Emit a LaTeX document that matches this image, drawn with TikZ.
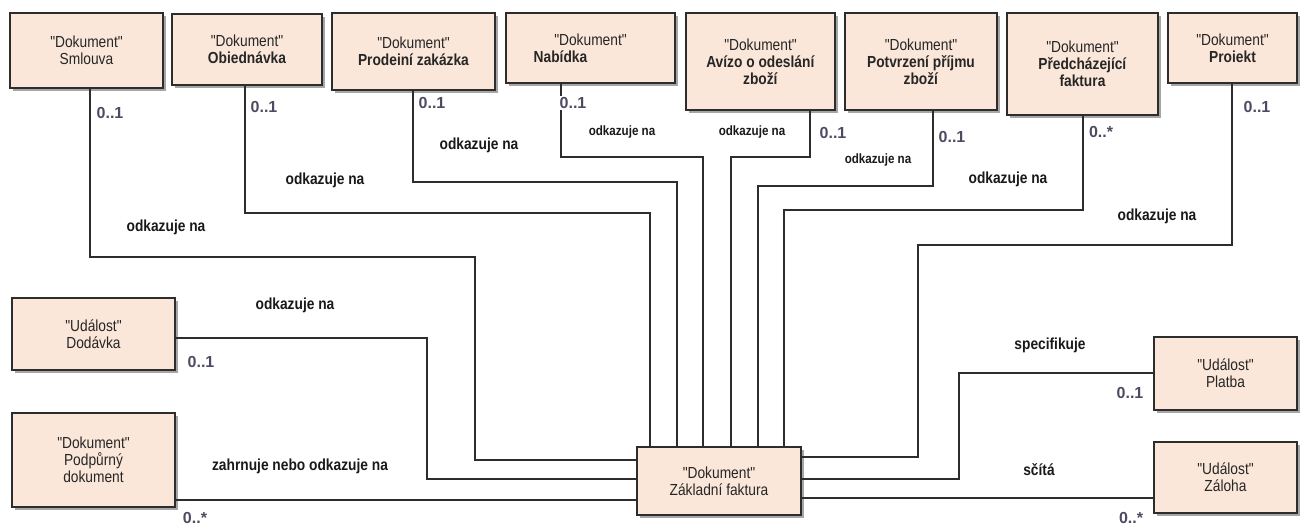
\documentclass[tikz,border=0pt]{standalone}
\usepackage{fontspec}
\setmainfont{Liberation Sans}
\newfontfamily\narrowsans[FakeStretch=0.86]{Liberation Sans}
\usetikzlibrary{shadows}
\definecolor{peach}{RGB}{251,231,217}
\definecolor{edge}{RGB}{45,45,45}
\definecolor{multc}{RGB}{78,74,98}
\begin{document}
\begin{tikzpicture}[x=1pt,y=-1pt,
  entity/.style={draw=edge, line width=1.6pt, fill=peach, align=center, inner sep=0pt,
    text=black!85, font=\narrowsans\fontsize{16}{17}\selectfont,
    drop shadow={shadow xshift=3pt, shadow yshift=-3pt, opacity=0.35, fill=black}},
  conn/.style={draw=edge, line width=1.5pt},
  role/.style={font=\narrowsans\bfseries\fontsize{16}{17}\selectfont, text=black!90, inner sep=1pt},
  rolesm/.style={font=\narrowsans\bfseries\fontsize{13.5}{15}\selectfont, text=black!90, inner sep=1pt},
  mult/.style={font=\bfseries\fontsize{16}{18}\selectfont, text=multc, inner sep=1pt}]
\useasboundingbox (0,0) rectangle (1307,528);

% ---- document classes along the top row
\node[entity, minimum width=153, minimum height=75] (smlouva) at (86.5,50.5)
  {"Dokument"\\Smlouva};
\node[entity, minimum width=150, minimum height=71] (obj) at (247,49.5)
  {"Dokument"\\\textbf{Obiednávka}};
\node[entity, minimum width=163, minimum height=77] (prod) at (413.5,51.5)
  {"Dokument"\\\textbf{Prodeiní zakázka}};
\node[entity, minimum width=169, minimum height=70] (nab) at (590.5,48)
  {"Dokument"\\\textbf{Nabídka}\hspace*{60pt}};
\node[entity, minimum width=149, minimum height=97] (aviz) at (760.5,61.5)
  {"Dokument"\\\textbf{Avízo o odeslání}\\\textbf{zboží}};
\node[entity, minimum width=152, minimum height=97] (potv) at (921,61.5)
  {"Dokument"\\\textbf{Potvrzení příjmu}\\\textbf{zboží}};
\node[entity, minimum width=151, minimum height=102] (pred) at (1082.5,64)
  {"Dokument"\\\textbf{Předcházející}\\\textbf{faktura}};
\node[entity, minimum width=129, minimum height=70] (proj) at (1232.5,48)
  {"Dokument"\\\textbf{Proiekt}};

% ---- left column
\node[entity, minimum width=163, minimum height=72] (dod) at (93.5,334)
  {"Událost"\\Dodávka};
\node[entity, minimum width=163, minimum height=94] (podp) at (93.5,460)
  {"Dokument"\\Podpůrný\\dokument};

% ---- central class
\node[entity, minimum width=164, minimum height=68] (zakl) at (719,481)
  {"Dokument"\\Základní faktura};

% ---- right column
\node[entity, minimum width=143, minimum height=73] (platba) at (1225.5,373.5)
  {"Událost"\\Platba};
\node[entity, minimum width=143, minimum height=71] (zaloha) at (1225.5,477.5)
  {"Událost"\\Záloha};

% ---- associations
\draw[conn] (smlouva.south -| 90,0) |- (475,257) |- (zakl.west |- 0,460);
\draw[conn] (obj.south -| 245,0) -- (245,213) -| (zakl.north -| 650,0);
\draw[conn] (prod.south -| 413,0) -- (413,182) -| (zakl.north -| 677,0);
\draw[conn] (nab.south -| 561,0) -- (561,157) -| (zakl.north -| 703,0);
\draw[conn] (aviz.south -| 810,0) -- (810,157) -| (zakl.north -| 731,0);
\draw[conn] (potv.south -| 933,0) -- (933,186) -| (zakl.north -| 758,0);
\draw[conn] (pred.south -| 1083,0) -- (1083,210) -| (zakl.north -| 784,0);
\draw[conn] (proj.south -| 1232,0) -- (1232,245) -| (918,457) -- (zakl.east |- 0,457);
\draw[conn] (platba.west |- 0,373) -| (959,479) -- (zakl.east |- 0,479);
\draw[conn] (zakl.east |- 0,498) -- (zaloha.west |- 0,498);
\draw[conn] (dod.east |- 0,338) -| (427,479) -- (zakl.west |- 0,479);
\draw[conn] (podp.east |- 0,500) -- (zakl.west |- 0,500);

% ---- role names
\node[role] (r1) at (166,227) {odkazuje na};
\node[role] (r2) at (325,180) {odkazuje na};
\node[role] (r3) at (479,145) {odkazuje na};
\node[rolesm] (r4) at (622,132) {odkazuje na};
\node[rolesm, fill=white, inner xsep=14pt, inner ysep=8pt] (r5) at (752,132) {odkazuje na};
\node[rolesm] (r6) at (878,160) {odkazuje na};
\node[role] (r7) at (1008,179) {odkazuje na};
\node[role] (r8) at (1157,216) {odkazuje na};
\node[role] (r9) at (295,305) {odkazuje na};
\node[role] (r10) at (300,466) {zahrnuje nebo odkazuje na};
\node[role] (r11) at (1050,345) {specifikuje};
\node[role] (r12) at (1039,470) {sčítá};

% ---- multiplicities
\node[mult] (m1) at (110,113) {0..1};
\node[mult] (m2) at (264,107) {0..1};
\node[mult] (m3) at (432,103) {0..1};
\node[mult, fill=white] (m4) at (573,103) {0..1};
\node[mult] (m5) at (833,133) {0..1};
\node[mult] (m6) at (952,137) {0..1};
\node[mult] (m7) at (1101,132) {0..*};
\node[mult] (m8) at (1257,107) {0..1};
\node[mult] (m9) at (201,362) {0..1};
\node[mult] (m10) at (195,518) {0..*};
\node[mult] (m11) at (1130,393) {0..1};
\node[mult] (m12) at (1131,518) {0..*};
\end{tikzpicture}
\end{document}
